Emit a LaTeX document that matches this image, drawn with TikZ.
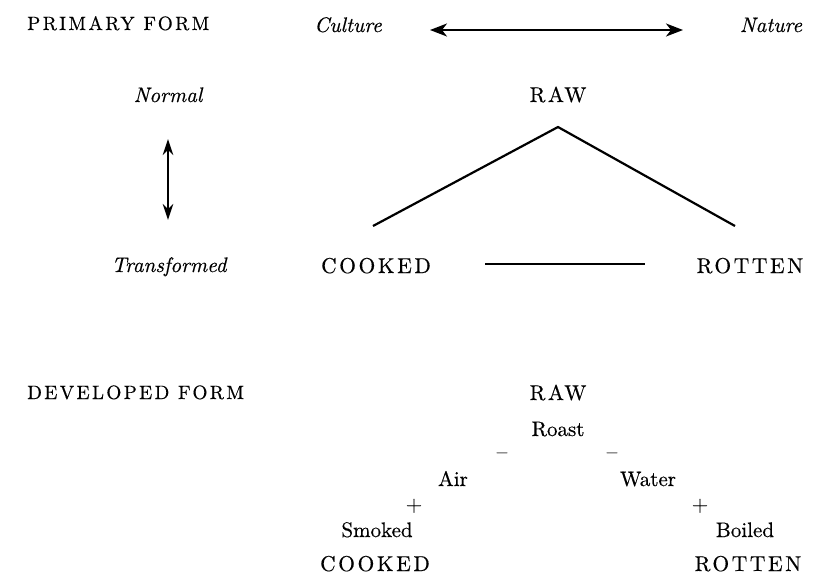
\documentclass[tikz,border=0pt]{standalone}
\usepackage{fontspec}
\setmainfont{lmroman10-regular}[Extension=.otf, ItalicFont=lmroman10-italic, BoldFont=lmroman10-bold, FakeBold=0.4]
\newfontfamily\spc{lmroman10-regular}[Extension=.otf, LetterSpace=12, FakeBold=0.4]
\usetikzlibrary{arrows.meta}
\tikzset{
  txt/.style={inner sep=0pt, anchor=base, font=\fontsize{21}{24}\selectfont},
  itx/.style={inner sep=0pt, anchor=base, font=\fontsize{21}{24}\selectfont\itshape},
  capsx/.style={inner sep=0pt, anchor=base, font=\spc\fontsize{21.5}{26}\selectfont},
  hdr/.style={inner sep=0pt, anchor=base west, font=\spc\fontsize{19.3}{24}\selectfont},
  dblh/.style={line width=2pt, {Stealth[length=17pt,width=13pt,inset=5pt]}-{Stealth[length=17pt,width=13pt,inset=5pt]}},
  dblv/.style={line width=2pt, {Stealth[length=16pt,width=10.5pt,inset=5pt]}-{Stealth[length=16pt,width=10.5pt,inset=5pt]}},
  ln/.style={line width=2.2pt}
}
\begin{document}
\begin{tikzpicture}[x=1pt,y=-1pt]
\useasboundingbox (0,0) rectangle (820,574);
% primary form
\node[hdr] (pf) at (27,30) {PRIMARY FORM};
\node[itx] (culture) at (348,32) {Culture};
\node[itx] (nature) at (771,32) {Nature};
\node[itx] (normal) at (168,102) {Normal};
\node[itx] (transf) at (169,272) {Transformed};
\node[capsx] (raw1) at (558,102) {RAW};
\node[capsx] (cooked1) at (376,273) {COOKED};
\node[capsx] (rotten1) at (750,273) {ROTTEN};
\coordinate (cA) at (430,30);
\coordinate (nA) at (683,30);
\draw[dblh] (cA) -- (nA);
\coordinate (va) at (168,139);
\coordinate (vb) at (168,220);
\draw[dblv] (va) -- (vb);
\coordinate (apex) at (558,127);
\coordinate (tl) at (373,226);
\coordinate (tr) at (735,226);
\draw[ln] (tl) -- (apex) -- (tr);
\coordinate (la) at (485,264);
\coordinate (lb) at (645,264);
\draw[ln] (la) -- (lb);
% developed form
\node[hdr] (df) at (27,399) {DEVELOPED FORM};
\node[capsx] (raw2) at (558,400) {RAW};
\node[txt] (roast) at (558,436) {Roast};
\node[txt] (m1) at (502,458.5) {–};
\node[txt] (m2) at (612,458.5) {–};
\node[txt] (air) at (453,486) {Air};
\node[txt] (water) at (648,486) {Water};
\node[txt] (p1) at (414,511) {+};
\node[txt] (p2) at (700,511) {+};
\node[txt] (smoked) at (377,537) {Smoked};
\node[txt] (boiled) at (745,537) {Boiled};
\node[capsx] (cooked2) at (375,571) {COOKED};
\node[capsx] (rotten2) at (748,571) {ROTTEN};
\end{tikzpicture}
\end{document}
